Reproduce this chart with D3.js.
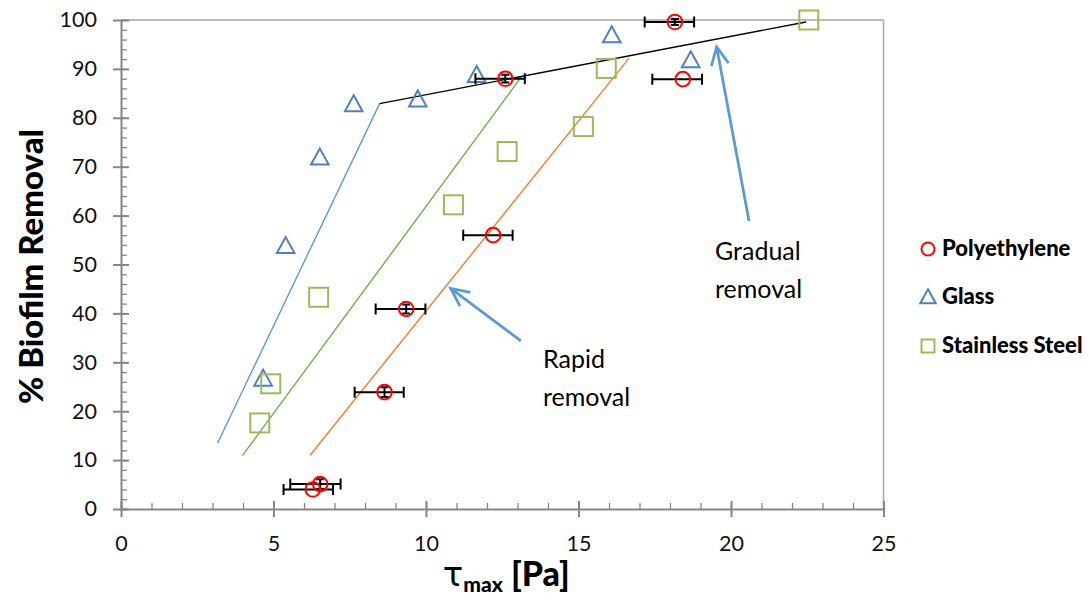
<!DOCTYPE html>
<html>
<head>
<meta charset="utf-8">
<script src="https://cdn.jsdelivr.net/npm/d3@7/dist/d3.min.js"></script>
<style>
  html, body { margin: 0; padding: 0; background: #fff; }
  svg { display: block; font-family: Lato, "DejaVu Sans", sans-serif; }
</style>
</head>
<body>
<svg id="chart" width="1089" height="600"></svg>
<script>
// Polyethylene: shear stress, removal, horizontal error (minus / plus), vertical error
const peTau      = [6.29, 6.53, 8.64, 9.35, 12.20, 12.60, 18.16, 18.42];
const peRemoval  = [4.0, 5.1, 23.9, 40.9, 56.0, 88.0, 99.6, 87.9];
const peErrMinus = [0.96, 0.98, 0.98, 1.00, 0.98, 0.98, 0.99, 1.00];
const peErrPlus  = [0.66, 0.67, 0.63, 0.63, 0.64, 0.64, 0.63, 0.63];
const peErrY     = [0.0, 1.0, 1.0, 0.9, 0.0, 0.8, 0.6, 0.0];

// Glass
const glassTau     = [4.66, 5.40, 6.52, 7.63, 9.73, 11.66, 16.09, 18.68];
const glassRemoval = [26.7, 53.8, 71.9, 82.8, 83.8, 88.8, 96.9, 91.8];

// Stainless steel
const ssTau     = [4.55, 4.91, 6.48, 10.90, 12.66, 15.16, 15.91, 22.55];
const ssRemoval = [17.6, 25.6, 43.3, 62.2, 73.1, 78.2, 90.1, 100.0];

// Fitted trend segments [tau, removal]
const glassFit    = [[3.17, 13.5], [8.48, 82.9]];
const steelFit    = [[3.98, 10.9], [13.11, 88.2]];
const peFit       = [[6.20, 11.0], [16.66, 92.2]];
const gradualFit  = [[8.48, 82.9], [22.46, 99.6]];

// Axis ticks
const xTicks = [0, 5, 10, 15, 20, 25];
const yTicks = [0, 10, 20, 30, 40, 50, 60, 70, 80, 90, 100];
const xMinor = d3.range(0, 25.5, 1);
const yMinor = d3.range(0, 101, 2);

// Legend entries
const legendNames = ["Polyethylene", "Glass", "Stainless Steel"];

// Annotations: arrow [tail, tip] and text lines
const gradualArrow = [[20.59, 58.9], [19.53, 94.5]];
const rapidArrow   = [[13.11, 34.4], [10.81, 45.1]];
const gradualText  = ["Gradual", "removal"];
const rapidText    = ["Rapid", "removal"];

const svg = d3.select("#chart");
const x = d3.scaleLinear().domain([0, 25]).range([121, 883.5]);
const y = d3.scaleLinear().domain([0, 100]).range([509, 20]);

const axisGray = "#868686";

// Plot frame: top and right edges
svg.append("path")
  .attr("d", `M${x(0)},${y(100)}H${x(25)}V${y(0)}`)
  .attr("fill", "none").attr("stroke", "#a6a6a6").attr("stroke-width", 1.5);

// X axis: major ticks cross the line, minor ticks point inward
const gx = svg.append("g").attr("transform", `translate(0,${y(0)})`);
gx.append("g").call(d3.axisTop(x).tickValues(xMinor).tickSize(6).tickFormat(""))
  .call(g => g.select(".domain").remove())
  .call(g => g.selectAll("line").attr("stroke", axisGray).attr("stroke-width", 1.3));
gx.append("g").call(d3.axisTop(x).tickValues(xTicks).tickSize(8).tickFormat(""))
  .call(g => g.select(".domain").remove())
  .call(g => g.selectAll("line").attr("stroke", axisGray).attr("stroke-width", 2));
gx.append("g").call(d3.axisBottom(x).tickValues(xTicks).tickSize(8).tickPadding(19).tickSizeOuter(0))
  .call(g => g.select(".domain").attr("stroke", axisGray).attr("stroke-width", 2))
  .call(g => g.selectAll("line").attr("stroke", axisGray).attr("stroke-width", 2))
  .call(g => g.selectAll("text").attr("font-size", 21.5).attr("fill", "#111")
    .attr("font-family", "Lato, sans-serif"));

// Y axis
const gy = svg.append("g").attr("transform", `translate(${x(0)},0)`);
gy.append("g").call(d3.axisRight(y).tickValues(yMinor).tickSize(6).tickFormat(""))
  .call(g => g.select(".domain").remove())
  .call(g => g.selectAll("line").attr("stroke", axisGray).attr("stroke-width", 1.3));
gy.append("g").call(d3.axisRight(y).tickValues(yTicks).tickSize(8).tickFormat(""))
  .call(g => g.select(".domain").remove())
  .call(g => g.selectAll("line").attr("stroke", axisGray).attr("stroke-width", 2));
gy.append("g").call(d3.axisLeft(y).tickValues(yTicks).tickSize(8).tickPadding(16).tickSizeOuter(0))
  .call(g => g.select(".domain").attr("stroke", axisGray).attr("stroke-width", 2))
  .call(g => g.selectAll("line").attr("stroke", axisGray).attr("stroke-width", 2))
  .call(g => g.selectAll("text").attr("font-size", 21.5).attr("fill", "#111")
    .attr("font-family", "Lato, sans-serif"));

// Axis titles
svg.append("text")
  .attr("transform", `translate(43,${(y(0) + y(100)) / 2 + 2}) rotate(-90)`)
  .attr("text-anchor", "middle")
  .attr("font-size", 33).attr("font-weight", "900").attr("fill", "#000")
  .text("% Biofilm Removal");

const xt = svg.append("text")
  .attr("x", (x(0) + x(25)) / 2 + 4).attr("y", 586)
  .attr("text-anchor", "middle")
  .attr("font-size", 34).attr("font-weight", "900").attr("fill", "#000");
xt.append("tspan").text("τ").attr("font-family", "'DejaVu Sans', Lato, sans-serif").attr("font-weight", "normal");
xt.append("tspan").text("max").attr("font-size", 21).attr("dy", 6);
xt.append("tspan").text(" [Pa]").attr("dy", -6);

// Trend lines
const line = d3.line().x(d => x(d[0])).y(d => y(d[1]));
const fits = [
  {pts: glassFit, color: "#5b9bd5"},
  {pts: steelFit, color: "#70ad47"},
  {pts: peFit, color: "#ed7d31"},
  {pts: gradualFit, color: "#000"}
];
svg.append("g").selectAll("path").data(fits).join("path")
  .attr("d", d => line(d.pts))
  .attr("fill", "none").attr("stroke", d => d.color).attr("stroke-width", 1.4);

// Marker shapes
const triPath = s => `M0,${-s * 0.55}L${s * 0.55},${s * 0.45}L${-s * 0.55},${s * 0.45}Z`;

// Glass triangles
svg.append("g").selectAll("path").data(glassTau).join("path")
  .attr("transform", (d, i) => `translate(${x(d)},${y(glassRemoval[i])})`)
  .attr("d", triPath(16))
  .attr("fill", "none").attr("stroke", "#4f81bd").attr("stroke-width", 2);

// Stainless steel squares
svg.append("g").selectAll("rect").data(ssTau).join("rect")
  .attr("x", d => x(d) - 9.5).attr("y", (d, i) => y(ssRemoval[i]) - 9.5)
  .attr("width", 19).attr("height", 19)
  .attr("fill", "none").attr("stroke", "#9bbb59").attr("stroke-width", 2);

// Polyethylene error bars
const eb = svg.append("g").attr("stroke", "#000").attr("stroke-width", 2).attr("fill", "none");
peTau.forEach((t, i) => {
  const cy = y(peRemoval[i]);
  const x0 = x(t - peErrMinus[i]), x1 = x(t + peErrPlus[i]);
  eb.append("path").attr("d", `M${x0},${cy}H${x1}M${x0},${cy - 5.5}V${cy + 5.5}M${x1},${cy - 5.5}V${cy + 5.5}`);
  if (peErrY[i] > 0) {
    const y0 = y(peRemoval[i] - peErrY[i]), y1 = y(peRemoval[i] + peErrY[i]);
    const cx = x(t);
    eb.append("path").attr("d", `M${cx},${y0}V${y1}M${cx - 4},${y0}H${cx + 4}M${cx - 4},${y1}H${cx + 4}`);
  }
});

// Polyethylene circles
svg.append("g").selectAll("circle").data(peTau).join("circle")
  .attr("cx", d => x(d)).attr("cy", (d, i) => y(peRemoval[i]))
  .attr("r", 7.3)
  .attr("fill", "none").attr("stroke", "#ff0000").attr("stroke-width", 2);

// Annotation arrows
const arrowColor = "#5b9bd5";
function drawArrow(a) {
  const [tx, ty] = [x(a[0][0]), y(a[0][1])];
  const [hx, hy] = [x(a[1][0]), y(a[1][1])];
  const ang = Math.atan2(hy - ty, hx - tx);
  const L = 20, spread = 0.45;
  const b1 = [hx - L * Math.cos(ang - spread), hy - L * Math.sin(ang - spread)];
  const b2 = [hx - L * Math.cos(ang + spread), hy - L * Math.sin(ang + spread)];
  svg.append("path")
    .attr("d", `M${tx},${ty}L${hx},${hy}M${b1[0]},${b1[1]}L${hx},${hy}L${b2[0]},${b2[1]}`)
    .attr("fill", "none").attr("stroke", arrowColor).attr("stroke-width", 2.8)
    .attr("stroke-linejoin", "miter");
}
drawArrow(gradualArrow);
drawArrow(rapidArrow);

// Annotation text
function drawNote(lines, px, py) {
  const t = svg.append("text").attr("font-size", 25).attr("fill", "#000");
  lines.forEach((s, i) => t.append("tspan").attr("x", px).attr("y", py + i * 38).text(s));
}
drawNote(gradualText, 715, 260);
drawNote(rapidText, 543, 368);

// Legend
const lg = svg.append("g").attr("transform", "translate(928,0)");
const legendY = [249, 297, 346];
lg.append("circle").attr("cx", 0).attr("cy", legendY[0]).attr("r", 6.5)
  .attr("fill", "none").attr("stroke", "#ff0000").attr("stroke-width", 2);
lg.append("path").attr("transform", `translate(0,${legendY[1]})`).attr("d", triPath(14))
  .attr("fill", "none").attr("stroke", "#4f81bd").attr("stroke-width", 2);
lg.append("rect").attr("x", -6.5).attr("y", legendY[2] - 6.5).attr("width", 13).attr("height", 13)
  .attr("fill", "none").attr("stroke", "#9bbb59").attr("stroke-width", 2);
lg.selectAll("text").data(legendNames).join("text")
  .attr("x", 14).attr("y", (d, i) => legendY[i] + 7)
  .attr("font-size", 22).attr("font-weight", "900").attr("fill", "#000")
  .text(d => d);
</script>
</body>
</html>
